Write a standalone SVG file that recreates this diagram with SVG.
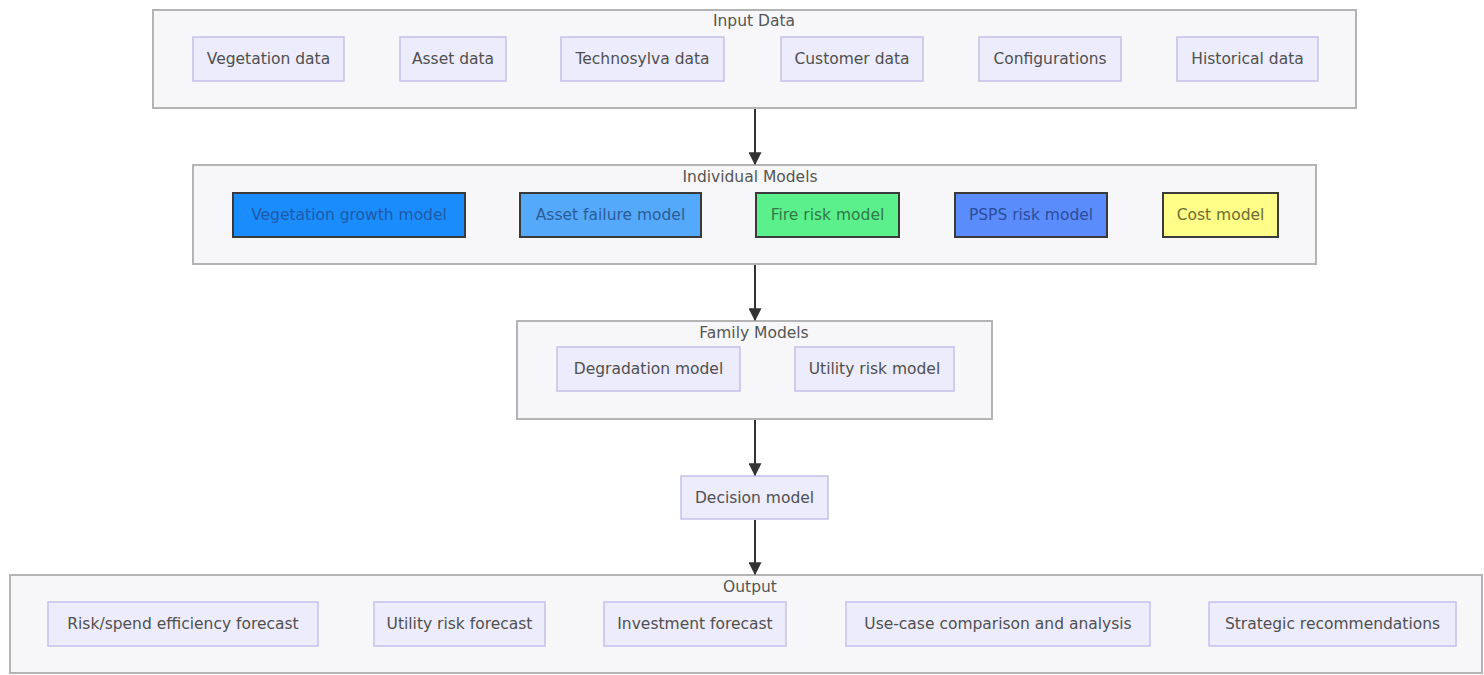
<svg xmlns="http://www.w3.org/2000/svg" width="1484" height="675" viewBox="0 0 1484 675">
  <style>
    .cluster { fill: #f7f7f9; stroke: #b4b4b4; stroke-width: 2; }
    .ctitle { font-family: "DejaVu Sans", Verdana, sans-serif; font-size: 15.5px; fill: #555; text-anchor: middle; dominant-baseline: central; }
    .node { fill: #ececfc; stroke: #c4c0ea; stroke-width: 1.5; }
    .lbl { font-family: "DejaVu Sans", Verdana, sans-serif; font-size: 15.5px; fill: #505050; text-anchor: middle; dominant-baseline: central; }
    .model { stroke: #3a3a3a; stroke-width: 2; }
    .edge { stroke: #333; stroke-width: 2; fill: none; marker-end: url(#arrow); }
  </style>
  <defs>
    <marker id="arrow" viewBox="0 0 10 10" refX="9" refY="5" markerWidth="6.5" markerHeight="6.5" orient="auto" markerUnits="strokeWidth">
      <path d="M0,0 L10,5 L0,10 z" fill="#333"/>
    </marker>
  </defs>
  <rect width="1484" height="675" fill="#ffffff"/>

  <!-- Input Data -->
  <g id="input-data">
    <rect class="cluster" x="153" y="10" width="1203" height="98"/>
    <text class="ctitle" x="754" y="21">Input Data</text>
    <g id="vegetation-data"><rect class="node" x="193" y="37" width="151" height="44"/><text class="lbl" x="268.5" y="59">Vegetation data</text></g>
    <g id="asset-data"><rect class="node" x="400" y="37" width="106" height="44"/><text class="lbl" x="453" y="59">Asset data</text></g>
    <g id="technosylva-data"><rect class="node" x="561" y="37" width="163" height="44"/><text class="lbl" x="642.5" y="59">Technosylva data</text></g>
    <g id="customer-data"><rect class="node" x="781" y="37" width="142" height="44"/><text class="lbl" x="852" y="59">Customer data</text></g>
    <g id="configurations"><rect class="node" x="979" y="37" width="142" height="44"/><text class="lbl" x="1050" y="59">Configurations</text></g>
    <g id="historical-data"><rect class="node" x="1177" y="37" width="141" height="44"/><text class="lbl" x="1247.5" y="59">Historical data</text></g>
  </g>

  <!-- Individual Models -->
  <g id="individual-models">
    <rect class="cluster" x="193" y="165" width="1123" height="99"/>
    <text class="ctitle" x="750" y="177">Individual Models</text>
    <g id="vegetation-growth-model"><rect class="model" x="233" y="193" width="232" height="44" fill="#1a8cfb"/><text class="lbl" x="349" y="215" style="fill:#1f5aa8">Vegetation growth model</text></g>
    <g id="asset-failure-model"><rect class="model" x="520" y="193" width="181" height="44" fill="#55a9fb"/><text class="lbl" x="610.5" y="215" style="fill:#2c5c96">Asset failure model</text></g>
    <g id="fire-risk-model"><rect class="model" x="756" y="193" width="143" height="44" fill="#5cf08c"/><text class="lbl" x="827.5" y="215" style="fill:#2f7a48">Fire risk model</text></g>
    <g id="psps-risk-model"><rect class="model" x="955" y="193" width="152" height="44" fill="#5b8cfb"/><text class="lbl" x="1031" y="215" style="fill:#2c4c9c">PSPS risk model</text></g>
    <g id="cost-model"><rect class="model" x="1163" y="193" width="115" height="44" fill="#fdfd88"/><text class="lbl" x="1220.5" y="215" style="fill:#6e6e32">Cost model</text></g>
  </g>

  <!-- Family Models -->
  <g id="family-models">
    <rect class="cluster" x="517" y="321" width="475" height="98"/>
    <text class="ctitle" x="754" y="333">Family Models</text>
    <g id="degradation-model"><rect class="node" x="557" y="347" width="183" height="44"/><text class="lbl" x="648.5" y="369">Degradation model</text></g>
    <g id="utility-risk-model"><rect class="node" x="795" y="347" width="159" height="44"/><text class="lbl" x="874.5" y="369">Utility risk model</text></g>
  </g>

  <!-- Decision -->
  <g id="decision-model">
    <rect class="node" x="681" y="476" width="147" height="43"/>
    <text class="lbl" x="754.5" y="497.5">Decision model</text>
  </g>

  <!-- Output -->
  <g id="output">
    <rect class="cluster" x="10" y="575" width="1472" height="98"/>
    <text class="ctitle" x="750" y="587">Output</text>
    <g id="risk-spend-forecast"><rect class="node" x="48" y="602" width="270" height="44"/><text class="lbl" x="183" y="624">Risk/spend efficiency forecast</text></g>
    <g id="utility-risk-forecast"><rect class="node" x="374" y="602" width="171" height="44"/><text class="lbl" x="459.5" y="624">Utility risk forecast</text></g>
    <g id="investment-forecast"><rect class="node" x="604" y="602" width="182" height="44"/><text class="lbl" x="695" y="624">Investment forecast</text></g>
    <g id="use-case-comparison"><rect class="node" x="846" y="602" width="304" height="44"/><text class="lbl" x="998" y="624">Use-case comparison and analysis</text></g>
    <g id="strategic-recommendations"><rect class="node" x="1209" y="602" width="247" height="44"/><text class="lbl" x="1332.5" y="624">Strategic recommendations</text></g>
  </g>

  <!-- Connectors -->
  <g id="connectors">
    <line class="edge" x1="755" y1="109" x2="755" y2="164"/>
    <line class="edge" x1="755" y1="265" x2="755" y2="320"/>
    <line class="edge" x1="755" y1="420" x2="755" y2="475"/>
    <line class="edge" x1="755" y1="520" x2="755" y2="574"/>
  </g>
</svg>
